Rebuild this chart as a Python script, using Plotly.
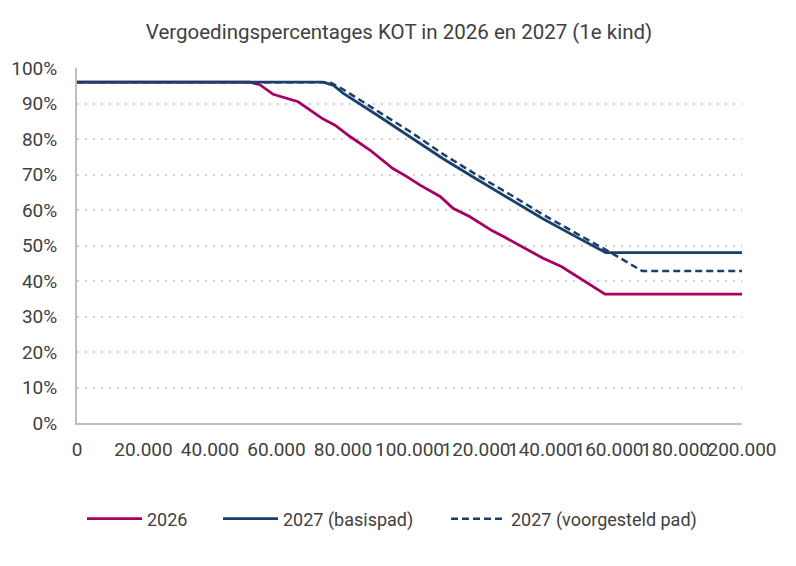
import plotly.graph_objects as go

# inkomen (x) en vergoedingspercentage (y, in %)
x_2026 = [0, 52000, 55000, 59000, 66500, 73700, 77600, 82100, 88100, 95000, 99200,
          103200, 109200, 113100, 118200, 124800, 128700, 140200, 145800, 154300,
          158800, 200000]
y_2026 = [96, 96, 95.3, 92.6, 90.5, 85.8, 83.9, 80.7, 76.9, 71.7, 69.4,
          67.0, 63.8, 60.5, 58.1, 54.2, 52.3, 46.4, 44.0, 38.9,
          36.3, 36.3]

x_basis = [0, 74000, 77000, 80000, 90000, 100000, 110000, 120000, 130000, 140000,
           150000, 159000, 200000]
y_basis = [96, 96, 95.2, 92.9, 86.9, 80.8, 74.5, 68.8, 63.2, 57.6,
           52.5, 48.0, 48.0]

x_voorst = [0, 76000, 80000, 90000, 100000, 110000, 120000, 130000, 140000,
            150000, 160000, 170000, 200000]
y_voorst = [96, 96, 94.0, 88.2, 82.2, 75.8, 70.0, 64.5, 58.8,
            53.5, 48.3, 42.8, 42.8]

x_ticks = [0, 20000, 40000, 60000, 80000, 100000, 120000, 140000, 160000, 180000, 200000]
x_labels = ["0", "20.000", "40.000", "60.000", "80.000", "100.000", "120.000",
            "140.000", "160.000", "180.000", "200.000"]
y_ticks = [0, 10, 20, 30, 40, 50, 60, 70, 80, 90, 100]
y_labels = ["0%", "10%", "20%", "30%", "40%", "50%", "60%", "70%", "80%", "90%", "100%"]

MAGENTA = "#A50062"
NAVY = "#1B3F6B"
TEXT = "#404040"
FONT = "Roboto"

# de pagina heeft 8px body-marge, dus figuur iets kleiner en marges verschoven
W, H = 788, 558
L, R, T, B = 69, 54, 60, 143

fig = go.Figure()
fig.add_trace(go.Scatter(x=x_2026, y=y_2026, name="2026", mode="lines",
                         line=dict(color=MAGENTA, width=2.8), legend="legend"))
fig.add_trace(go.Scatter(x=x_basis, y=y_basis, name="2027 (basispad)", mode="lines",
                         line=dict(color=NAVY, width=2.8), legend="legend2"))
fig.add_trace(go.Scatter(x=x_voorst, y=y_voorst, name="2027 (voorgesteld pad)", mode="lines",
                         line=dict(color=NAVY, width=2.5, dash="7px,4px"), legend="legend3"))


def legend_at(px_left):
    # legenda-item links uitgelijnd op pixelpositie (papiercoördinaten)
    return dict(x=(px_left - L) / (W - L - R), xanchor="left",
                y=(H - B - 511) / (H - T - B), yanchor="middle",
                orientation="h", itemwidth=55, bgcolor="rgba(0,0,0,0)",
                font=dict(family=FONT, size=18, color=TEXT))


fig.update_layout(
    width=W,
    height=H,
    margin=dict(l=L, r=R, t=T, b=B, autoexpand=False),
    paper_bgcolor="white",
    plot_bgcolor="white",
    font=dict(family=FONT, size=18, color=TEXT),
    title=dict(text="Vergoedingspercentages KOT in 2026 en 2027 (1e kind)",
               x=391 / W, xanchor="center", y=1 - 24 / H, yanchor="middle",
               font=dict(family=FONT, size=20.5, color=TEXT)),
    showlegend=True,
    legend=legend_at(74),
    legend2=legend_at(210),
    legend3=legend_at(438),
)

fig.update_xaxes(
    range=[0, 200000], automargin=False,
    tickmode="array", tickvals=x_ticks, ticktext=x_labels, tickangle=0,
    showgrid=False, zeroline=False,
    showline=True, linecolor="#BFBFBF", linewidth=2,
    ticks="", ticklabelstandoff=8,
    tickfont=dict(size=19, color=TEXT),
)
fig.update_yaxes(
    range=[0, 100], automargin=False,
    tickmode="array", tickvals=y_ticks, ticktext=y_labels,
    showgrid=True, gridcolor="#D0D0D0", gridwidth=1.5, griddash="2px,6px",
    zeroline=False,
    showline=True, linecolor="#BFBFBF", linewidth=2,
    ticks="", ticklabelstandoff=14,
    tickfont=dict(size=19, color=TEXT),
)

fig.write_html("out.html")
